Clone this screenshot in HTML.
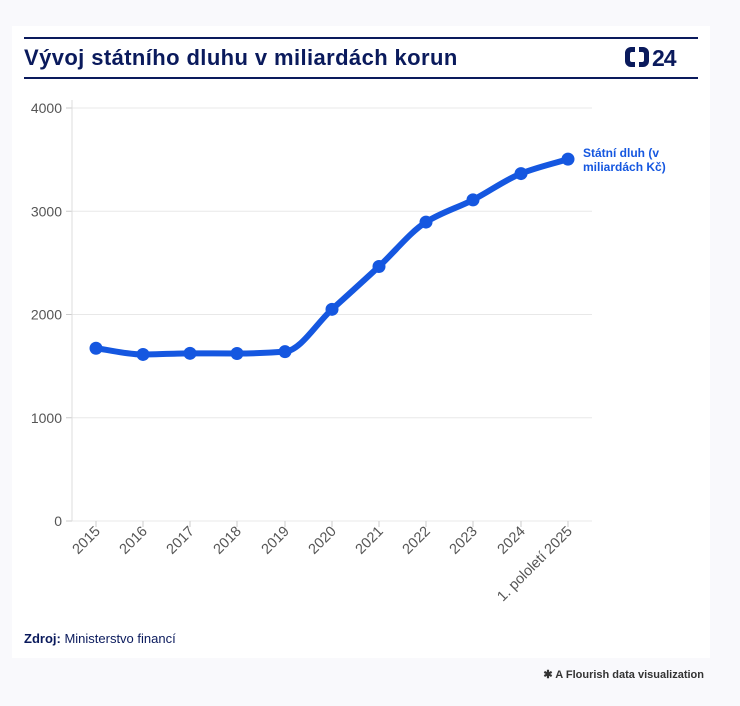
<!DOCTYPE html>
<html><head><meta charset="utf-8"><style>
body{margin:0;width:740px;height:706px;background:#f9f9fc;font-family:"Liberation Sans",sans-serif;position:relative;overflow:hidden}
.card{position:absolute;left:12px;top:26px;width:698px;height:632px;background:#fff}
.t{position:absolute;left:24px;top:45px;font-size:22px;font-weight:bold;color:#0a1a5c;letter-spacing:0.4px}
.line{position:absolute;left:24px;width:674px;height:1.5px;background:#0a1a5c}
.src{position:absolute;left:24px;top:631px;font-size:13px;color:#0a1a5c}
.fl{position:absolute;right:36px;top:668px;font-size:11px;color:#333;font-weight:bold}
</style></head><body>
<div class="card"></div>
<div class="line" style="top:37px"></div>
<div class="t">Vývoj státního dluhu v miliardách korun</div>
<div class="line" style="top:77px"></div>
<svg style="position:absolute;left:624px;top:45px" width="76" height="26">
<path d="M11 2 h-4 a6 6 0 0 0 -6 6 v8 a6 6 0 0 0 6 6 h4 v-5 h-3 a2 2 0 0 1 -2 -2 v-6 a2 2 0 0 1 2 -2 h3 z" fill="#0a1a5c"/>
<path d="M15 2 h4 a6 6 0 0 1 6 6 v8 a6 6 0 0 1 -6 6 h-4 v-5 h3 a2 2 0 0 0 2 -2 v-6 a2 2 0 0 0 -2 -2 h-3 z" fill="#0a1a5c"/>
<text x="28" y="21" font-size="23" font-weight="bold" fill="#0a1a5c" font-family="Liberation Sans" letter-spacing="-1">24</text>
</svg>
<svg id="c" style="position:absolute;left:0;top:0" width="740" height="706"></svg>
<div class="src"><b>Zdroj:</b> Ministerstvo financí</div>
<div class="fl">✱ A Flourish data visualization</div>
<script>
var s='',X=[96,143,190,237,285,332,379,426,473,521,568],V=[1673,1613,1624,1622,1640,2050,2465,2895,3110,3365,3505];
function y(v){return 521-v*413/4000}
for(var i=0;i<=4;i++){var yy=y(i*1000);s+='<line x1="72" x2="592" y1="'+yy+'" y2="'+yy+'" stroke="#e8e8e8"/><line x1="66" x2="72" y1="'+yy+'" y2="'+yy+'" stroke="#ccc"/><text x="62" y="'+(yy+5)+'" text-anchor="end" font-size="14" fill="#555" font-family="Liberation Sans">'+(i*1000)+'</text>';}
s+='<line x1="72" x2="72" y1="100" y2="521" stroke="#ddd"/>';
var L=['2015','2016','2017','2018','2019','2020','2021','2022','2023','2024','1. pololetí 2025'];
for(i=0;i<11;i++){s+='<line x1="'+X[i]+'" x2="'+X[i]+'" y1="521" y2="527" stroke="#ccc"/><text transform="translate('+(X[i]+5)+',532) rotate(-45)" text-anchor="end" font-size="14.5" fill="#555" font-family="Liberation Sans">'+L[i]+'</text>';}
var P=X.map(function(x,i){return [x,y(V[i])]});
// monotone cubic
var n=P.length,dx=[],m=[],t=[];
for(i=0;i<n-1;i++){m[i]=(P[i+1][1]-P[i][1])/(P[i+1][0]-P[i][0]);}
t[0]=m[0];t[n-1]=m[n-2];
for(i=1;i<n-1;i++){t[i]=(m[i-1]*m[i]<=0)?0:2/(1/m[i-1]+1/m[i]);}
var d='M'+P[0][0]+' '+P[0][1];
for(i=0;i<n-1;i++){var h=(P[i+1][0]-P[i][0])/3;
d+=' C'+(P[i][0]+h)+' '+(P[i][1]+h*t[i])+' '+(P[i+1][0]-h)+' '+(P[i+1][1]-h*t[i+1])+' '+P[i+1][0]+' '+P[i+1][1];}
s+='<path d="'+d+'" fill="none" stroke="#1557e0" stroke-width="6" stroke-linecap="round"/>';
P.forEach(function(p){s+='<circle cx="'+p[0]+'" cy="'+p[1]+'" r="6.5" fill="#1557e0"/>'});
s+='<text x="583" y="157" font-size="12" font-weight="bold" fill="#1557e0" font-family="Liberation Sans">Státní dluh (v</text><text x="583" y="171" font-size="12" font-weight="bold" fill="#1557e0" font-family="Liberation Sans">miliardách Kč)</text>';
document.getElementById('c').innerHTML=s;
</script>
</body></html>
